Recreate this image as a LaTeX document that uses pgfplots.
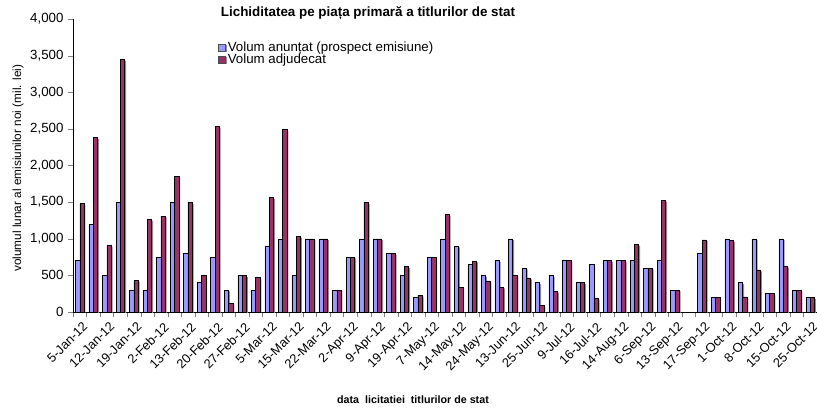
\documentclass[border=0pt]{standalone}
\usepackage{pgfplots}
\pgfplotsset{compat=1.18}
\usepackage{pgfplotstable}
\usepackage{fontspec}
\setmainfont{Liberation Sans}

\definecolor{anuntat}{HTML}{9999FF}
\definecolor{adjudecat}{HTML}{993366}

\pgfplotstableread{
x anunt adj
1 700 1480
2 1200 2380
3 500 910
4 1500 3450
5 300 435
6 300 1265
7 750 1310
8 1500 1855
9 800 1500
10 400 500
11 750 2535
12 300 120
13 500 500
14 300 475
15 900 1565
16 1000 2490
17 500 1035
18 1000 1000
19 1000 1000
20 300 300
21 750 750
22 1000 1500
23 1000 1000
24 800 800
25 500 625
26 200 230
27 750 750
28 1000 1335
29 900 340
30 650 695
31 500 425
32 700 340
33 1000 505
34 600 465
35 400 95
36 500 285
37 700 700
38 400 400
39 650 185
40 700 700
41 700 700
42 700 925
43 600 600
44 700 1525
45 300 300
46 0 0
47 800 985
48 200 200
49 1000 975
50 400 205
51 1000 575
52 250 250
53 1000 625
54 300 300
55 200 200
}\licitatii

\begin{document}
\begin{tikzpicture}
\useasboundingbox (-73bp,-99bp) rectangle (744bp,312bp);
\begin{axis}[
    scale only axis,
    width=744bp, height=293bp,
    ybar=0pt, bar width=4.3bp,
    xmin=0.5, xmax=55.5,
    ymin=0, ymax=4000,
    axis lines=left,
    axis line style={-, black},
    tick align=outside,
    major tick length=5bp,
    ytick={0,500,...,4000},
    /pgf/number format/assume math mode=true,
    /pgf/number format/1000 sep={,},
    yticklabel style={font=\fontsize{13.3bp}{15bp}\selectfont, xshift=-1bp},
    xtick={0.5,1.5,...,55.5},
    xticklabel=\empty,
    extra x ticks={1,3,...,55},
    extra x tick labels={5-Jan-12,12-Jan-12,19-Jan-12,2-Feb-12,13-Feb-12,20-Feb-12,27-Feb-12,5-Mar-12,15-Mar-12,22-Mar-12,2-Apr-12,9-Apr-12,19-Apr-12,7-May-12,14-May-12,24-May-12,13-Jun-12,25-Jun-12,9-Jul-12,16-Jul-12,14-Aug-12,6-Sep-12,13-Sep-12,17-Sep-12,1-Oct-12,8-Oct-12,15-Oct-12,25-Oct-12},
    extra x tick style={major tick length=0pt,
        xticklabel style={font=\fontsize{12.8bp}{15bp}\selectfont, rotate=45,
            anchor=north east, inner sep=0bp, yshift=-8bp, xshift=-5bp}},
    legend style={at={(0.195,0.93)}, anchor=north west, draw=none, fill=none,
        font=\fontsize{13.3bp}{13bp}\selectfont, inner sep=0pt, row sep=-3bp,
        cells={anchor=west}},
    legend image code/.code={\draw[#1, draw=black!70] (0bp,-3.5bp) rectangle (7bp,3.5bp);},
]
\addplot[fill=anuntat, draw=black, line width=0.5pt,
    preaction={fill=black!45, draw=none, transform canvas={xshift=1.4bp, yshift=-1.4bp}}]
    table[x=x, y=anunt] {\licitatii};
\addplot[fill=adjudecat, draw=black, line width=0.5pt,
    preaction={fill=black!45, draw=none, transform canvas={xshift=1.4bp, yshift=-1.4bp}}]
    table[x=x, y=adj] {\licitatii};
\legend{Volum anunțat (prospect emisiune), Volum adjudecat}
\end{axis}
\node[font=\bfseries\fontsize{13.4bp}{15bp}\selectfont] at (295bp,299bp)
    {Lichiditatea pe piața primară a titlurilor de stat};
\node[rotate=90, anchor=west, inner sep=0pt, font=\fontsize{11.8bp}{13bp}\selectfont] at (-55bp,40bp)
    {volumul lunar al emisiunilor noi (mil. lei)};
\node[font=\bfseries\fontsize{10.7bp}{12bp}\selectfont] at (340bp,-88bp)
    {data\ \ licitatiei\ \ titlurilor de stat};
\end{tikzpicture}
\end{document}
